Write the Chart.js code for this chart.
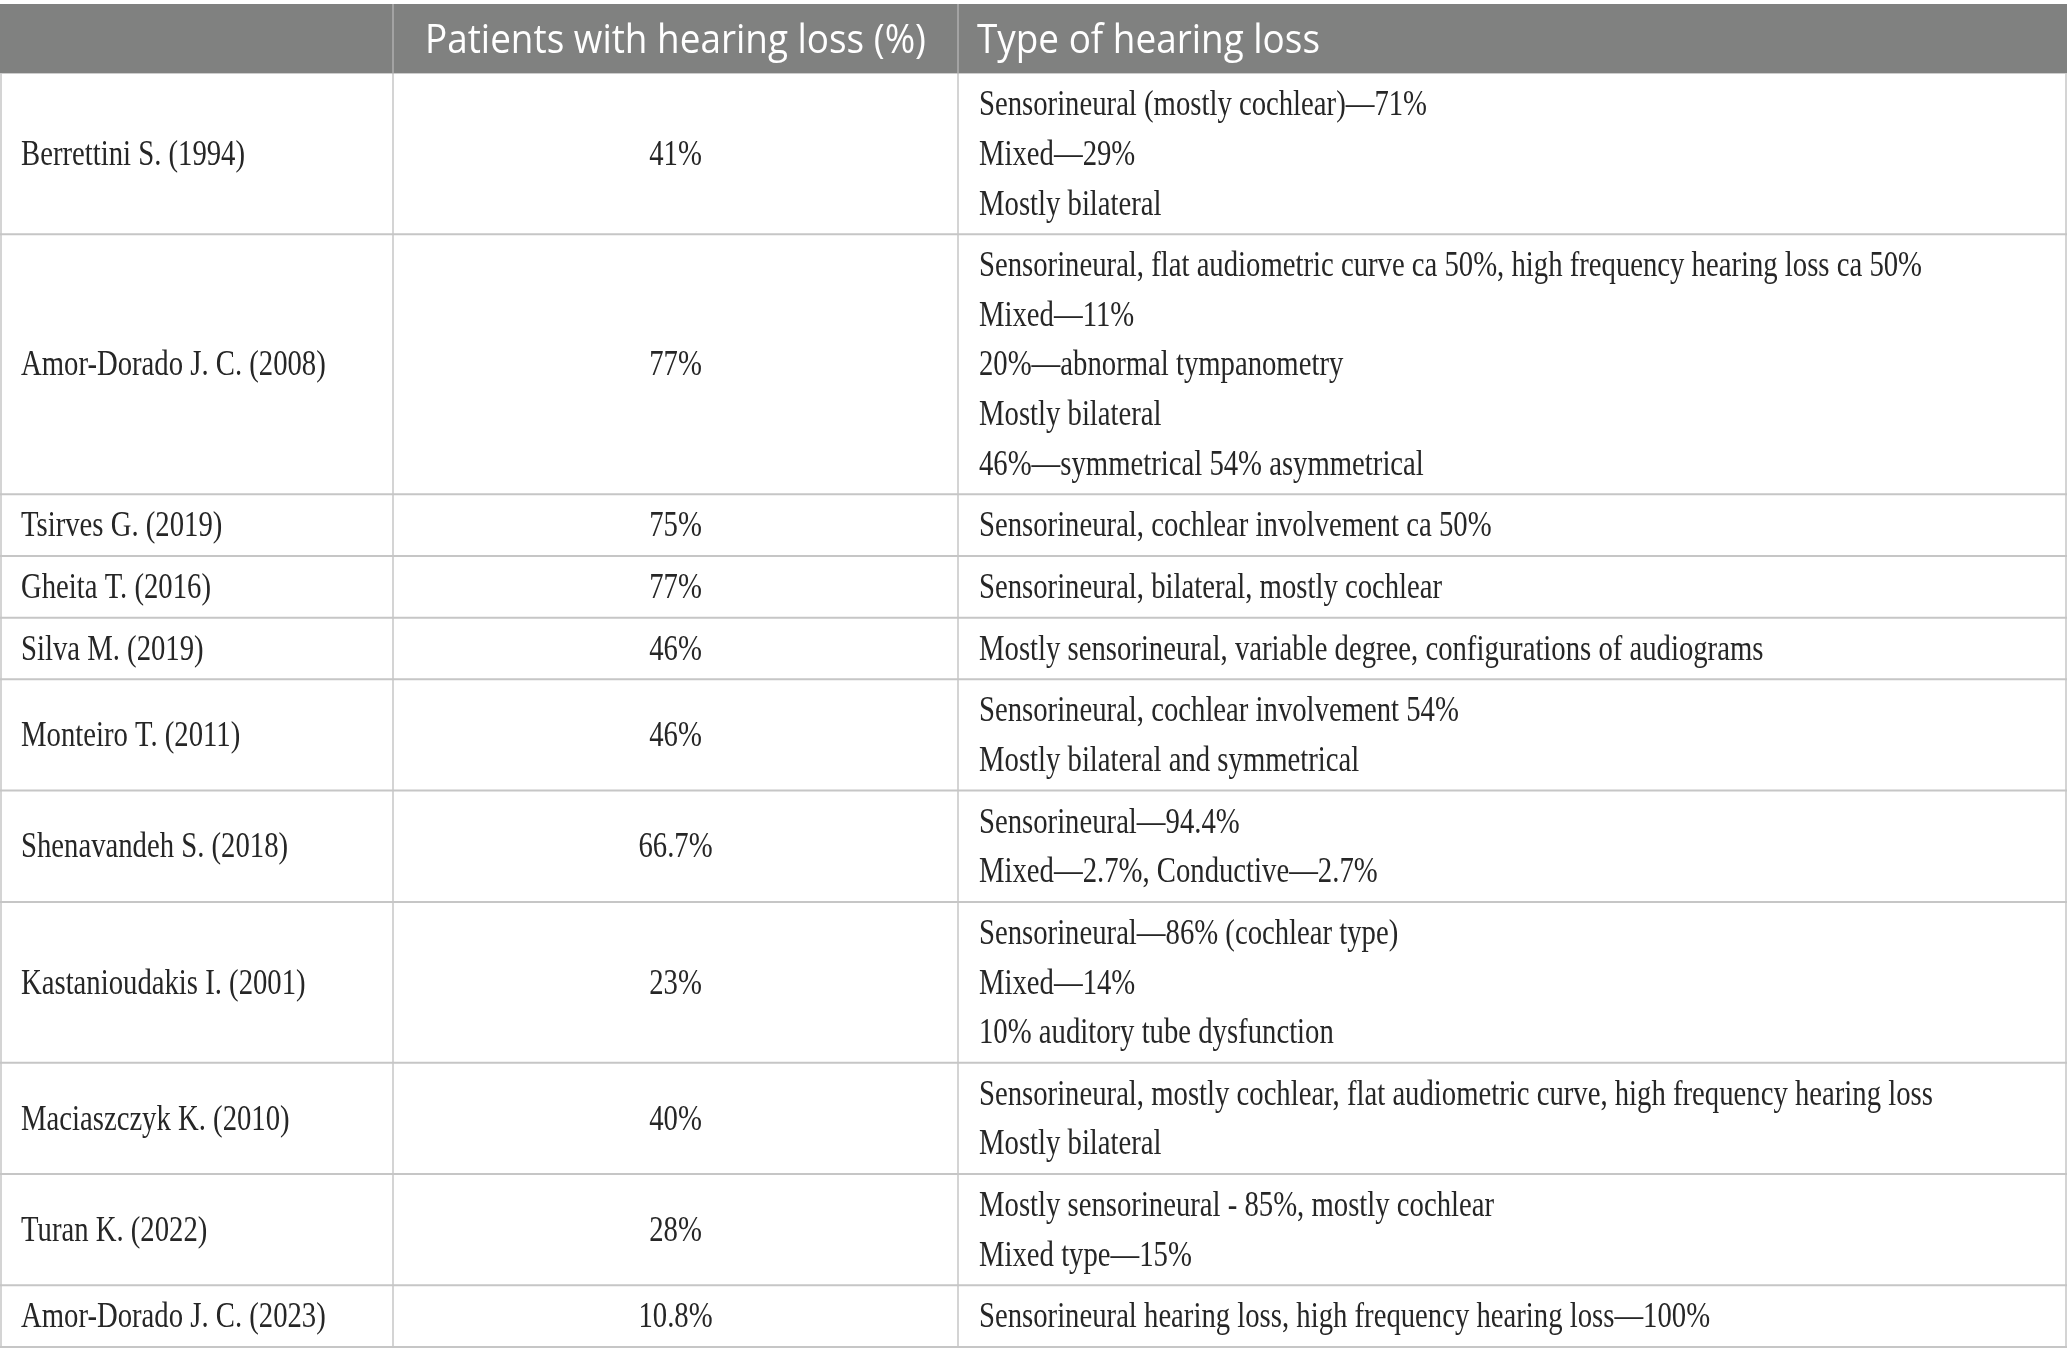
<!DOCTYPE html>
<html>
<head>
<meta charset="utf-8">
<script src="https://cdn.jsdelivr.net/npm/chart.js@4.4.1/dist/chart.umd.min.js"></script>
<style>
  html, body { margin: 0; padding: 0; background: #fff; }
  canvas { display: block; }
</style>
</head>
<body>
<canvas id="tableChart" width="2067" height="1366"></canvas>
<script>
// table content
const headers = ['', 'Patients with hearing loss (%)', 'Type of hearing loss'];

const studies = [
  'Berrettini S. (1994)',
  'Amor-Dorado J. C. (2008)',
  'Tsirves G. (2019)',
  'Gheita T. (2016)',
  'Silva M. (2019)',
  'Monteiro T. (2011)',
  'Shenavandeh S. (2018)',
  'Kastanioudakis I. (2001)',
  'Maciaszczyk K. (2010)',
  'Turan K. (2022)',
  'Amor-Dorado J. C. (2023)'
];

const hearingLossPct = [41, 77, 75, 77, 46, 46, 66.7, 23, 40, 28, 10.8];

const lossTypes = [
  ['Sensorineural (mostly cochlear)\u201471%', 'Mixed\u201429%', 'Mostly bilateral'],
  ['Sensorineural, flat audiometric curve ca 50%, high frequency hearing loss ca 50%', 'Mixed\u201411%',
   '20%\u2014abnormal tympanometry', 'Mostly bilateral', '46%\u2014symmetrical 54% asymmetrical'],
  ['Sensorineural, cochlear involvement ca 50%'],
  ['Sensorineural, bilateral, mostly cochlear'],
  ['Mostly sensorineural, variable degree, configurations of audiograms'],
  ['Sensorineural, cochlear involvement 54%', 'Mostly bilateral and symmetrical'],
  ['Sensorineural\u201494.4%', 'Mixed\u20142.7%, Conductive\u20142.7%'],
  ['Sensorineural\u201486% (cochlear type)', 'Mixed\u201414%', '10% auditory tube dysfunction'],
  ['Sensorineural, mostly cochlear, flat audiometric curve, high frequency hearing loss', 'Mostly bilateral'],
  ['Mostly sensorineural - 85%, mostly cochlear', 'Mixed type\u201415%'],
  ['Sensorineural hearing loss, high frequency hearing loss\u2014100%']
];

// layout (x in page px, y in text-line units)
const colEdges = [0, 393, 958, 2067];
const cellPadX = 21;
const rowPad = 0.245;
const headerUnits = 1.40;

const rowTops = [];
let acc = 0;
lossTypes.forEach(lines => { rowTops.push(acc); acc += lines.length + rowPad; });
const totalUnits = acc;

const bodyFont = '35px "Liberation Serif", "DejaVu Serif", serif';
const headFont = '40px "Open Sans", "Noto Sans", sans-serif';

function drawSqueezed(ctx, text, px, py, sx) {
  ctx.save();
  ctx.translate(px, py);
  ctx.scale(sx, 1);
  ctx.fillText(text, 0, 0);
  ctx.restore();
}

const tablePlugin = {
  id: 'tableDraw',
  afterDraw(chart) {
    const { ctx } = chart;
    const x = chart.scales.x;
    const y = chart.scales.y;
    const X = v => x.getPixelForValue(v);
    const Y = v => y.getPixelForValue(v);

    // squeeze factors to mimic the narrow reference faces
    ctx.font = bodyFont;
    const bodySx = 943 / ctx.measureText(lossTypes[1][0]).width;
    ctx.font = headFont;
    const headSx = 501 / ctx.measureText(headers[1]).width;

    // header band
    ctx.fillStyle = '#808180';
    ctx.fillRect(X(colEdges[0]), Y(-headerUnits), X(colEdges[3]) - X(colEdges[0]), Y(0) - Y(-headerUnits));
    ctx.strokeStyle = '#a3a3a3';
    ctx.lineWidth = 2;
    [1, 2].forEach(c => {
      ctx.beginPath();
      ctx.moveTo(X(colEdges[c]), Y(-headerUnits));
      ctx.lineTo(X(colEdges[c]), Y(0));
      ctx.stroke();
    });
    ctx.fillStyle = '#ffffff';
    ctx.font = headFont;
    ctx.textBaseline = 'middle';
    const headMid = Y(-headerUnits / 2) + 3;
    ctx.textAlign = 'center';
    drawSqueezed(ctx, headers[1], (X(colEdges[1]) + X(colEdges[2])) / 2, headMid, headSx);
    ctx.textAlign = 'left';
    drawSqueezed(ctx, headers[2], X(colEdges[2]) + cellPadX - 2, headMid, headSx);

    // grid
    ctx.strokeStyle = '#c6c6c6';
    ctx.lineWidth = 2;
    rowTops.concat([totalUnits]).forEach((t, i) => {
      if (i === 0) return;
      ctx.beginPath();
      ctx.moveTo(X(colEdges[0]), Y(t));
      ctx.lineTo(X(colEdges[3]), Y(t));
      ctx.stroke();
    });
    ctx.lineWidth = 1.5;
    colEdges.forEach((c, i) => {
      const px = i === 0 ? X(c) + 1 : (i === 3 ? X(c) - 1 : X(c));
      ctx.beginPath();
      ctx.moveTo(px, Y(0));
      ctx.lineTo(px, Y(totalUnits));
      ctx.stroke();
    });

    // body text
    ctx.fillStyle = '#262626';
    ctx.font = bodyFont;
    ctx.textBaseline = 'middle';
    studies.forEach((name, r) => {
      const top = rowTops[r];
      const n = lossTypes[r].length;
      const mid = Y(top + (n + rowPad) / 2) + 2;
      ctx.textAlign = 'left';
      drawSqueezed(ctx, name, X(colEdges[0]) + cellPadX, mid, bodySx);
      ctx.textAlign = 'center';
      drawSqueezed(ctx, hearingLossPct[r] + '%', (X(colEdges[1]) + X(colEdges[2])) / 2, mid, bodySx);
      ctx.textAlign = 'left';
      lossTypes[r].forEach((line, i) => {
        drawSqueezed(ctx, line, X(colEdges[2]) + cellPadX, Y(top + rowPad / 2 + i + 0.5) + 2, bodySx);
      });
    });
  }
};

new Chart(document.getElementById('tableChart'), {
  type: 'scatter',
  data: { datasets: [] },
  options: {
    responsive: false,
    animation: false,
    devicePixelRatio: 1,
    layout: { padding: { top: 4, bottom: 19, left: 0, right: 0 } },
    plugins: { legend: { display: false }, tooltip: { enabled: false } },
    scales: {
      x: { type: 'linear', min: colEdges[0], max: colEdges[3], display: false },
      y: { type: 'linear', min: -headerUnits, max: totalUnits, reverse: true, display: false }
    }
  },
  plugins: [tablePlugin]
});
</script>
</body>
</html>
